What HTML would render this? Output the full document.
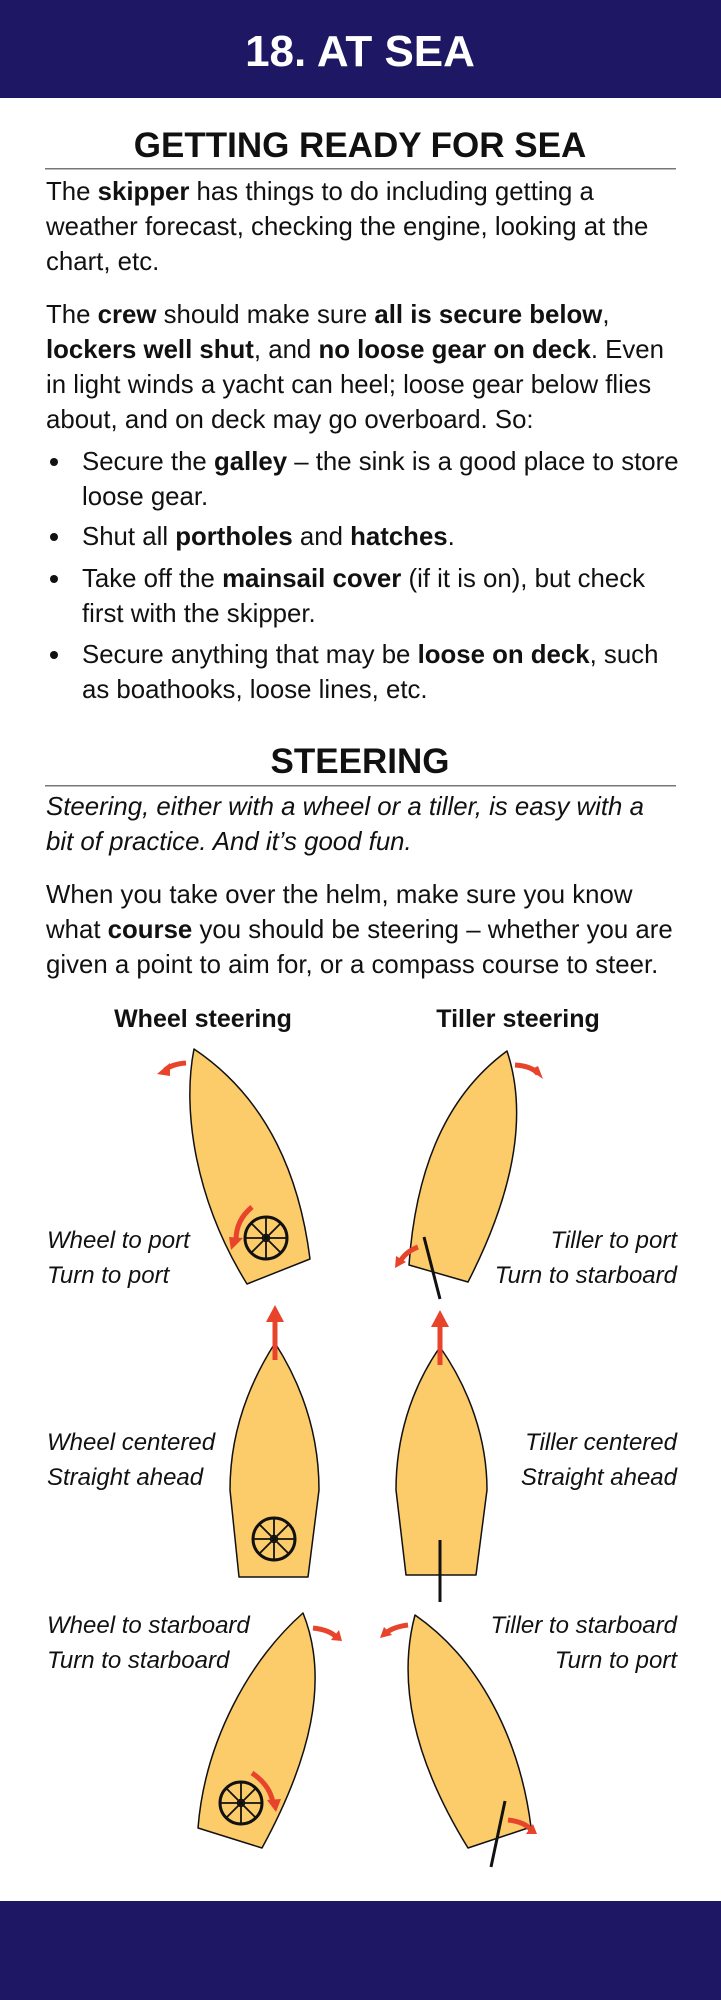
<!DOCTYPE html>
<html><head><meta charset="utf-8"><style>
html,body{margin:0;padding:0;background:#fff}
svg{display:block}
text{font-family:"Liberation Sans",Arial,sans-serif;fill:#111}
.b{font-weight:bold}
.t{font-size:25.8px}
.l{font-size:24px}
.i{font-style:italic}
</style></head><body>
<svg width="721" height="2000" viewBox="0 0 721 2000" xmlns="http://www.w3.org/2000/svg">
<rect x="0" y="0" width="721" height="98" fill="#1e1763"/>
<rect x="0" y="1901" width="721" height="99" fill="#1e1763"/>
<text x="360" y="66" text-anchor="middle" class="b" style="font-size:44px;fill:#fff">18. AT SEA</text>

<text x="360" y="157" text-anchor="middle" class="b" style="font-size:35px">GETTING READY FOR SEA</text>
<rect x="45" y="168" width="631" height="1.5" fill="#777"/>
<text x="46" y="200" class="t">The <tspan class="b">skipper</tspan> has things to do including getting a</text>
<text x="46" y="235" class="t">weather forecast, checking the engine, looking at the</text>
<text x="46" y="270" class="t">chart, etc.</text>
<text x="46" y="323" class="t">The <tspan class="b">crew</tspan> should make sure <tspan class="b">all is secure below</tspan>,</text>
<text x="46" y="358" class="t"><tspan class="b">lockers well shut</tspan>, and <tspan class="b">no loose gear on deck</tspan>. Even</text>
<text x="46" y="393" class="t">in light winds a yacht can heel; loose gear below flies</text>
<text x="46" y="428" class="t">about, and on deck may go overboard. So:</text>
<circle cx="54" cy="462" r="4" fill="#111"/>
<text x="82" y="470" class="t">Secure the <tspan class="b">galley</tspan> – the sink is a good place to store</text>
<text x="82" y="505" class="t">loose gear.</text>
<circle cx="54" cy="537" r="4" fill="#111"/>
<text x="82" y="545" class="t">Shut all <tspan class="b">portholes</tspan> and <tspan class="b">hatches</tspan>.</text>
<circle cx="54" cy="579" r="4" fill="#111"/>
<text x="82" y="587" class="t">Take off the <tspan class="b">mainsail cover</tspan> (if it is on), but check</text>
<text x="82" y="622" class="t">first with the skipper.</text>
<circle cx="54" cy="655" r="4" fill="#111"/>
<text x="82" y="663" class="t">Secure anything that may be <tspan class="b">loose on deck</tspan>, such</text>
<text x="82" y="698" class="t">as boathooks, loose lines, etc.</text>

<text x="360" y="773" text-anchor="middle" class="b" style="font-size:35px">STEERING</text>
<rect x="45" y="785" width="631" height="1.5" fill="#777"/>
<text x="46" y="815" class="t i">Steering, either with a wheel or a tiller, is easy with a</text>
<text x="46" y="850" class="t i">bit of practice. And it’s good fun.</text>
<text x="46" y="903" class="t">When you take over the helm, make sure you know</text>
<text x="46" y="938" class="t">what <tspan class="b">course</tspan> you should be steering – whether you are</text>
<text x="46" y="973" class="t">given a point to aim for, or a compass course to steer.</text>

<text x="203" y="1027" text-anchor="middle" class="b" style="font-size:25px">Wheel steering</text>
<text x="518" y="1027" text-anchor="middle" class="b" style="font-size:25px">Tiller steering</text>

<text x="47" y="1248" class="l i">Wheel to port</text>
<text x="47" y="1283" class="l i">Turn to port</text>
<text x="677" y="1248" text-anchor="end" class="l i">Tiller to port</text>
<text x="677" y="1283" text-anchor="end" class="l i">Turn to starboard</text>
<text x="47" y="1450" class="l i">Wheel centered</text>
<text x="47" y="1485" class="l i">Straight ahead</text>
<text x="677" y="1450" text-anchor="end" class="l i">Tiller centered</text>
<text x="677" y="1485" text-anchor="end" class="l i">Straight ahead</text>
<text x="47" y="1633" class="l i">Wheel to starboard</text>
<text x="47" y="1668" class="l i">Turn to starboard</text>
<text x="677" y="1633" text-anchor="end" class="l i">Tiller to starboard</text>
<text x="677" y="1668" text-anchor="end" class="l i">Turn to port</text>

<defs>
<g id="wheel">
<circle r="21" fill="none" stroke="#111" stroke-width="3"/>
<circle r="3.5" fill="none" stroke="#111" stroke-width="1.5"/>
<g stroke="#111" stroke-width="1.8">
<line x1="-21" y1="0" x2="21" y2="0"/><line x1="0" y1="-21" x2="0" y2="21"/>
<line x1="-15" y1="-15" x2="15" y2="15"/><line x1="-15" y1="15" x2="15" y2="-15"/>
</g>
</g>
</defs>

<g fill="#fccb6a" stroke="#111" stroke-width="1.5" stroke-linejoin="round">
<path d="M194,1049 C182,1110 195,1200 247,1284 L310,1259 C300,1180 270,1100 194,1049 Z"/>
<path d="M507,1051 C440,1100 415,1180 409,1265 L468,1282 C510,1200 530,1120 507,1051 Z"/>
<path d="M275,1343 C245,1390 230,1440 230,1490 L239,1577 L308,1577 L319,1490 C319,1440 305,1390 275,1343 Z"/>
<path d="M440,1347 C410,1390 396,1440 396,1490 L406,1575 L476,1575 L487,1490 C487,1440 470,1390 440,1347 Z"/>
<path d="M303,1613 C250,1660 205,1740 198,1828 L262,1848 C310,1760 330,1680 303,1613 Z"/>
<path d="M415,1615 C395,1690 420,1770 468,1848 L531,1827 C520,1740 480,1660 415,1615 Z"/>
</g>

<use href="#wheel" x="266" y="1238"/>
<use href="#wheel" x="274" y="1539"/>
<use href="#wheel" x="241" y="1803"/>

<g stroke="#111" stroke-width="3">
<line x1="424" y1="1237" x2="440" y2="1299"/>
<line x1="440" y1="1540" x2="440" y2="1602"/>
<line x1="505" y1="1801" x2="491" y2="1867"/>
</g>

<g fill="none" stroke="#e8432b" stroke-width="5">
<path d="M186,1063 Q172,1064 165,1070"/>
<path d="M515,1065 Q532,1066 538,1074"/>
<path d="M252,1207 Q236,1220 236,1240"/>
<path d="M418,1247 Q405,1252 400,1262"/>
<line x1="275" y1="1360" x2="275" y2="1318"/>
<line x1="440" y1="1365" x2="440" y2="1323"/>
<path d="M313,1628 Q330,1630 336,1637"/>
<path d="M408,1625 Q393,1627 386,1633"/>
<path d="M252,1773 Q270,1785 273,1803"/>
<path d="M508,1820 Q525,1822 531,1830"/>
</g>
<g fill="#e8432b">
<polygon points="157,1074 170,1063 170,1076"/>
<polygon points="543,1079 530,1070 538,1066"/>
<polygon points="231,1250 229,1237 243,1238"/>
<polygon points="395,1268 396,1256 406,1262"/>
<polygon points="275,1305 266,1322 284,1322"/>
<polygon points="440,1310 431,1327 449,1327"/>
<polygon points="342,1641 331,1640 339,1630"/>
<polygon points="380,1638 384,1627 392,1635"/>
<polygon points="276,1812 267,1800 281,1799"/>
<polygon points="537,1834 526,1834 533,1824"/>
</g>
</svg>
</body></html>
